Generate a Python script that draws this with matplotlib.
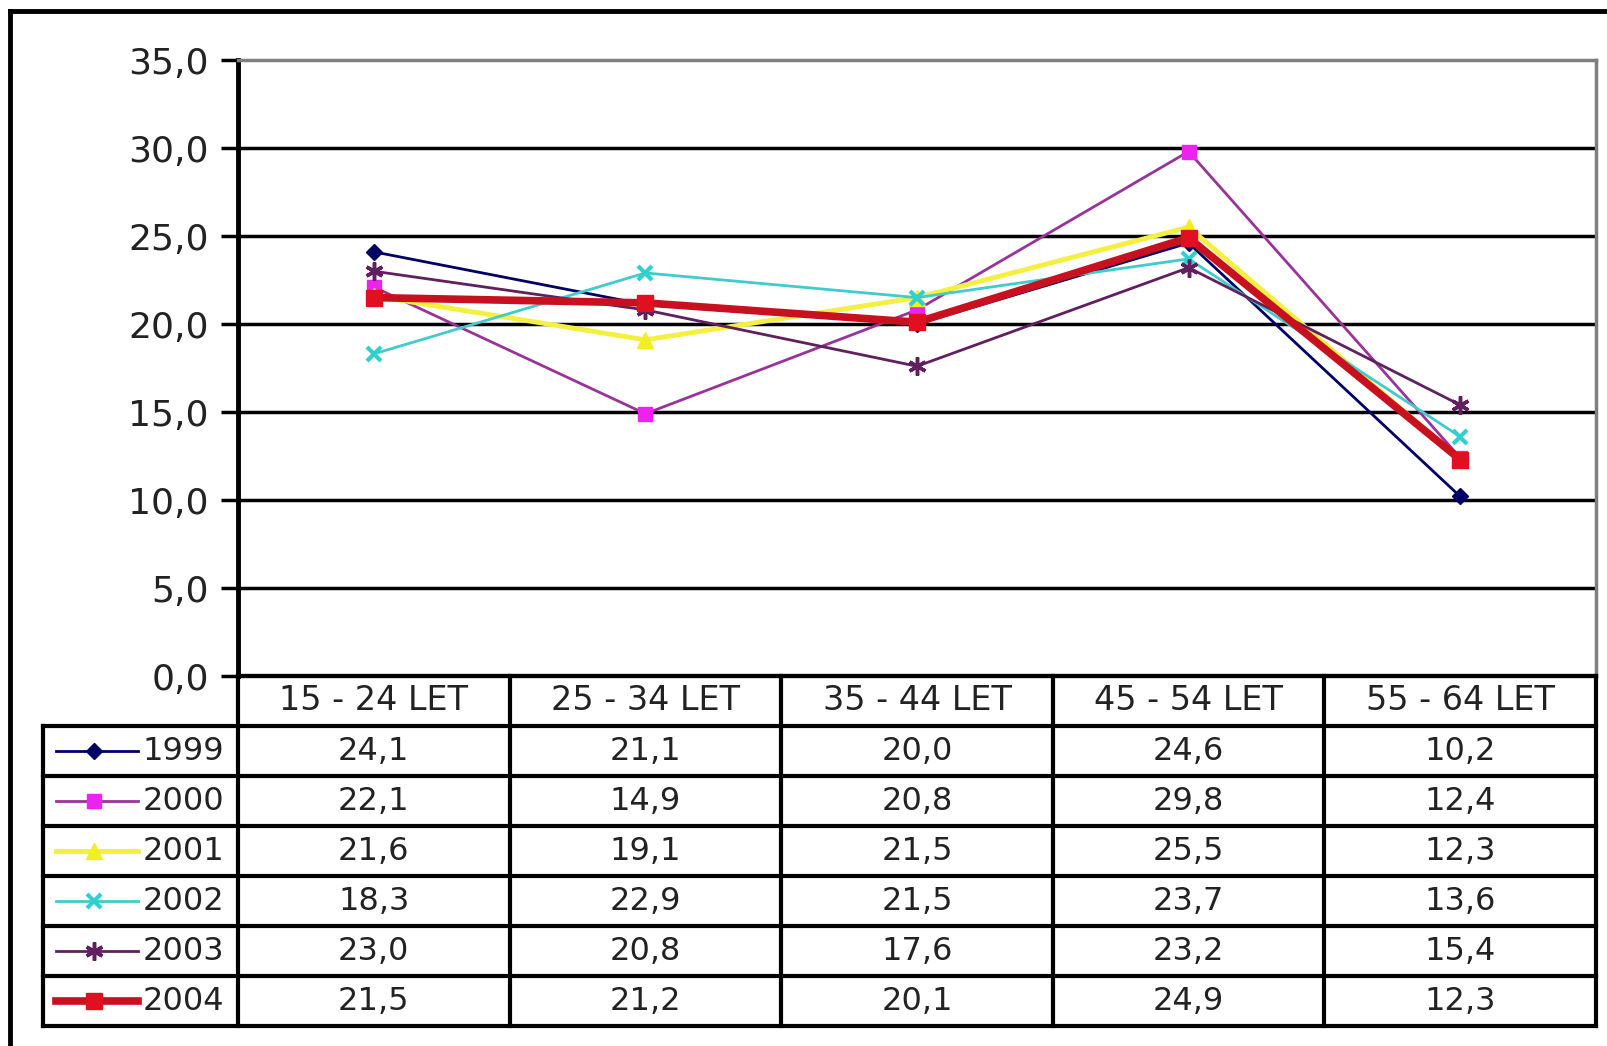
import numpy as np
import matplotlib
matplotlib.use("Agg")
import matplotlib.pyplot as plt
from matplotlib.lines import Line2D

# data
categories = ["15 - 24 LET", "25 - 34 LET", "35 - 44 LET", "45 - 54 LET", "55 - 64 LET"]
years = ["1999", "2000", "2001", "2002", "2003", "2004"]
v1999 = [24.1, 21.1, 20.0, 24.6, 10.2]
v2000 = [22.1, 14.9, 20.8, 29.8, 12.4]
v2001 = [21.6, 19.1, 21.5, 25.5, 12.3]
v2002 = [18.3, 22.9, 21.5, 23.7, 13.6]
v2003 = [23.0, 20.8, 17.6, 23.2, 15.4]
v2004 = [21.5, 21.2, 20.1, 24.9, 12.3]
series = [v1999, v2000, v2001, v2002, v2003, v2004]
yticks = [0, 5, 10, 15, 20, 25, 30, 35]

styles = [
    dict(color="#000066", lw=2, marker="D", ms=8, mfc="#000066", mec="#000066"),
    dict(color="#993399", lw=2, marker="s", ms=10, mfc="#EE22EE", mec="#EE22EE"),
    dict(color="#F4F040", lw=3.5, marker="^", ms=11, mfc="#F0F020", mec="#F0F020"),
    dict(color="#40CCCC", lw=2, marker="x", ms=10, mew=3, mfc="#30D0D0", mec="#30D0D0"),
    dict(color="#602060", lw=2, marker=(6, 2, 0), ms=13, mew=2.5, mfc="#602060", mec="#602060"),
    dict(color="#C8101E", lw=5.5, marker="s", ms=11, mfc="#E01020", mec="#E01020"),
]

W, H = 1607, 1046
fig = plt.figure(figsize=(W / 100, H / 100), dpi=100)
plt.rcParams['font.family'] = ['DejaVu Sans']
txt = "#222222"

# plot area in pixels
left, right, top, bot = 238, 1596, 60, 676
ax = fig.add_axes([left / W, 1 - bot / H, (right - left) / W, (bot - top) / H])
x = np.arange(len(categories))
for vals, st in zip(series, styles):
    ax.plot(x, vals, **st, clip_on=False, zorder=3)

ax.set_xlim(-0.5, len(categories) - 0.5)
ax.set_ylim(0, 35)
ax.set_yticks(yticks)
ax.set_yticklabels([f"{v:.1f}".replace(".", ",") for v in yticks], fontsize=26, color=txt)
ax.set_xticks([])
for v in yticks[1:-1]:
    ax.axhline(v, color="black", lw=2.5, zorder=1)
ax.tick_params(axis="y", direction="out", length=12, width=2.5, pad=9)
ax.spines["left"].set_linewidth(3.5)
ax.spines["bottom"].set_linewidth(3)
ax.spines["top"].set_color("#808080")
ax.spines["top"].set_linewidth(2.5)
ax.spines["right"].set_color("#808080")
ax.spines["right"].set_linewidth(2.5)

# data table below
colw = (right - left) / len(categories)
tleft, tbot = 43, 1026
tx0 = -0.5 - (left - tleft) / colw
tab = fig.add_axes([tleft / W, 1 - tbot / H, (right - tleft) / W, (tbot - bot) / H])
tab.set_xlim(tx0, len(categories) - 0.5)
tab.set_ylim(len(years) + 1, 0)
tab.axis("off")

lk = dict(color="black", lw=3, clip_on=False, solid_capstyle="projecting")
tab.plot([-0.5, len(categories) - 0.5], [0, 0], **lk)
for r in range(1, len(years) + 2):
    tab.plot([tx0, len(categories) - 0.5], [r, r], **lk)
tab.plot([tx0, tx0], [1, len(years) + 1], **lk)
for c in range(len(categories) + 1):
    tab.plot([c - 0.5, c - 0.5], [0, len(years) + 1], **lk)

for c, name in enumerate(categories):
    tab.text(c, 0.5, name, ha="center", va="center", fontsize=24, color=txt)

px = 1 / colw
for r, (yr, vals, st) in enumerate(zip(years, series, styles), start=1):
    yc = r + 0.5
    l0 = -0.5 - (left - 56) * px
    l1 = -0.5 - (left - 138) * px
    lm = -0.5 - (left - 94) * px
    st2 = {k: v for k, v in st.items() if k not in ("marker", "ms", "mew", "mfc", "mec")}
    tab.plot([l0, l1], [yc, yc], **st2, clip_on=False)
    tab.plot([lm], [yc], marker=st["marker"], ms=st["ms"], mew=st.get("mew", 1),
             mfc=st["mfc"], mec=st["mec"], ls="none", clip_on=False)
    tab.text(-0.5 - (left - 224) * px, yc, yr, ha="right", va="center", fontsize=23, color=txt)
    for c, v in enumerate(vals):
        tab.text(c, yc, f"{v:.1f}".replace(".", ","), ha="center", va="center",
                 fontsize=23, color=txt)

# outer chart frame (top and left edges)
fig.add_artist(Line2D([10 / W, 1], [1 - 11 / H, 1 - 11 / H], color="black", lw=3.5))
fig.add_artist(Line2D([10 / W, 10 / W], [1 - 11 / H, 0], color="black", lw=3.5))

fig.savefig("out.png", dpi=100, facecolor="white")
